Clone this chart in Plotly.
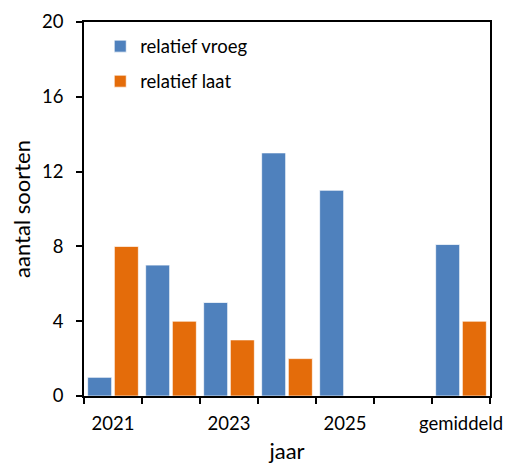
import plotly.graph_objects as go

categories = ["2021", "2022", "2023", "2024", "2025", "", "gemiddeld"]
vroeg = [1, 7, 5, 13, 11, None, 8.1]
laat = [8, 4, 3, 2, 0, None, 4]
label_idx = [0, 2, 4, 6]

x = list(range(len(categories)))
font_family = "Lato, Carlito, Calibri, sans-serif"

fig = go.Figure()
fig.add_trace(go.Bar(x=x, y=vroeg, name="relatief vroeg", marker=dict(color="#4F81BD", line=dict(color="rgba(255,255,255,0.7)", width=1)), legendgroup="a"))
fig.add_trace(go.Bar(x=x, y=laat, name="relatief laat", marker=dict(color="#E46C0A", line=dict(color="rgba(255,255,255,0.7)", width=1)), legendgroup="b"))

fig.update_layout(
    width=508, height=464,
    margin=dict(l=84, r=18, t=22, b=68, autoexpand=False),
    paper_bgcolor="white", plot_bgcolor="white",
    barmode="group", bargap=0.08, bargroupgap=0.1,
    font=dict(family=font_family, size=18.5, color="#000"),
    showlegend=True,
    legend=dict(x=0.04, y=0.985, xanchor="left", yanchor="top", tracegroupgap=8,
                font=dict(size=18.5), itemwidth=30, bgcolor="rgba(0,0,0,0)"),
    xaxis=dict(
        automargin=False,
        range=[-0.5, len(categories) - 0.5],
        tickvals=label_idx, ticktext=[categories[i] for i in label_idx],
        ticks="outside", ticklen=10, tickcolor="rgba(0,0,0,0)",
        minor=dict(tickvals=[i - 0.5 for i in range(len(categories) + 1)], ticks="outside", ticklen=6, tickcolor="black", tickwidth=1.5),
        showline=True, linecolor="black", linewidth=1.5, mirror=True,
        showgrid=False, zeroline=False,
        title=dict(text="jaar", standoff=18),
    ),
    yaxis=dict(
        automargin=False,
        range=[0, 20], tickvals=[0, 4, 8, 12, 16, 20],
        ticks="outside", ticklen=6, tickcolor="black", tickwidth=1.5,
        ticklabelstandoff=9,
        showline=True, linecolor="black", linewidth=1.5, mirror=True,
        showgrid=False, zeroline=False,
        title=dict(text="aantal soorten", standoff=5),
    ),
)

fig.write_html("out.html", config={"displayModeBar": False},
               post_script="document.body.style.margin='0';document.body.style.overflow='hidden';")
